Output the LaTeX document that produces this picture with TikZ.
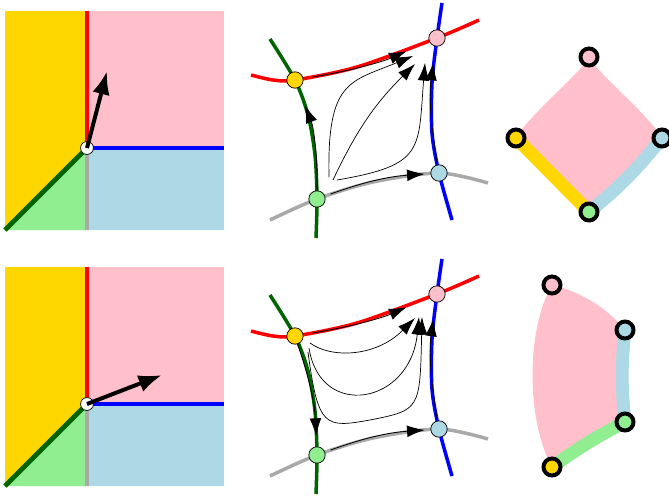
\documentclass[tikz,border=0pt]{standalone}
\usepackage{tikz}
\usetikzlibrary{arrows.meta,backgrounds}
\definecolor{gold}{RGB}{255,215,0}
\definecolor{rosy}{RGB}{255,192,203}
\definecolor{skyish}{RGB}{173,216,230}
\definecolor{mint}{RGB}{144,238,144}
\definecolor{forest}{RGB}{0,100,0}
\definecolor{ash}{RGB}{169,169,169}

\begin{document}
\begin{tikzpicture}[
  x=0.03cm, y=-0.03cm,
  wall/.style={line width=3.4pt},
  vec/.style={line width=3.4pt, -{Latex[length=20pt,width=15pt]}},
  origin/.style={circle, draw, fill=white, line width=0.6pt, minimum size=11pt, inner sep=0pt},
  branch/.style={line width=3pt},
  pt/.style={circle, draw, line width=0.6pt, minimum size=14pt, inner sep=0pt},
  follow/.style={line width=0.7pt, -{Latex[length=15pt,width=10pt]}},
  flow/.style={line width=0.6pt, -{Latex[length=15pt,width=10pt]}},
  vertex/.style={circle, draw, line width=3.4pt, minimum size=14.5pt, inner sep=0pt},
  band/.style={line width=11pt, line cap=round}
]
  \useasboundingbox (0,0) rectangle (669,496);

  % regions on the left
  \foreach \i/\dy/\tx/\ty in {1/0/107/71, 2/256/162/119}{
    \begin{scope}[shift={(0,\dy)}]
      \fill[gold]   (5,11) rectangle (87,230);
      \fill[mint]   (5,230) -- (87,148) -- (87,230) -- cycle;
      \fill[rosy]   (87,11) rectangle (224,148);
      \fill[skyish] (87,148) rectangle (224,230);
      \draw[wall, red]  (87,11) -- (87,148);
      \draw[wall, blue] (87,148) -- (224,148);
      \draw[wall, ash]  (87,148) -- (87,230);
      \draw[wall, forest, line width=4pt] (87,148) -- (5,230);
      \node[origin] (o\i) at (87,148) {};
      \coordinate (t\i) at (\tx,\ty);
      \draw[vec] (o\i.center) -- (t\i);
    \end{scope}
  }

  % curves in the middle
  \foreach \i/\dy in {1/0, 2/256}{
    \begin{scope}[shift={(0,\dy)}]
      \node[pt, fill=gold]   (y\i) at (295,80)  {};
      \node[pt, fill=rosy]   (p\i) at (437,38)  {};
      \node[pt, fill=mint]   (g\i) at (317,199) {};
      \node[pt, fill=skyish] (b\i) at (439,173) {};
      \begin{scope}[on background layer]
        \draw[branch, red]    plot[smooth] coordinates {(251,75) (273,80) (y\i.center) (357,67) (p\i.center) (479,20)};
        \draw[branch, forest] plot[smooth] coordinates {(270,39) (y\i.center) (308,115) (315,155) (g\i.center) (316,238)};
        \draw[branch, blue]   plot[smooth] coordinates {(442,3) (p\i.center) (432,83) (432,133) (b\i.center) (452,220)};
        \draw[branch, ash]    plot[smooth] coordinates {(270,220) (g\i.center) (373,182) (b\i.center) (488,183)};
      \end{scope}
      \draw[follow, shorten <=5pt, shorten >=5pt] (g\i) to[bend left=8] (b\i);
      \draw[follow, shorten <=8pt, shorten >=21pt] (y\i) to[bend right=7] (p\i);
      \draw[follow, shorten >=14pt] (b\i) to[bend left=9] (p\i);
    \end{scope}
  }

  % top: flow out of the green point
  \draw[follow, shorten >=16pt] (g1) to[bend right=11] (y1);
  \coordinate (sa1) at (329,177); \coordinate (ea1) at (413,56);
  \coordinate (sb1) at (333,180); \coordinate (eb1) at (415,64);
  \coordinate (sc1) at (337,180); \coordinate (ec1) at (425,63);
  \draw[flow] (sa1) .. controls (327,80) and (350,82) .. (ea1);
  \draw[flow] (sb1) to[bend left=10] (eb1);
  \draw[flow] (sc1) .. controls (425,165) and (418,150) .. (ec1);

  % bottom: flow out of the yellow point
  \draw[follow, shorten >=9pt] (y2) to[bend left=8] (g2);
  \coordinate (sa2) at (310,343); \coordinate (ea2) at (415,318);
  \coordinate (sb2) at (309,348); \coordinate (eb2) at (419,317);
  \coordinate (sc2) at (308,352); \coordinate (ec2) at (422,317);
  \draw[flow] (sa2) .. controls (330,358) and (375,358) .. (ea2);
  \draw[flow] (sb2) .. controls (320,420) and (410,405) .. (eb2);
  \draw[flow] (sc2) .. controls (318,428) and (325,428) .. (370,420)
                    .. controls (420,410) and (420,410) .. (ec2);

  % polygons on the right
  \node[vertex, fill=rosy]   (rp1) at (589,57)  {};
  \node[vertex, fill=gold]   (ry1) at (516,138) {};
  \node[vertex, fill=skyish] (rb1) at (662,138) {};
  \node[vertex, fill=mint]   (rg1) at (589,212) {};
  \node[vertex, fill=rosy]   (rp2) at (552,285) {};
  \node[vertex, fill=skyish] (rb2) at (625,330) {};
  \node[vertex, fill=mint]   (rg2) at (625,422) {};
  \node[vertex, fill=gold]   (ry2) at (552,467) {};
  \begin{scope}[on background layer]
    \fill[rosy] (rp1.center) .. controls (582,72) and (528,116) .. (ry1.center)
      -- (rg1.center) -- (rb1.center) .. controls (650,116) and (596,72) .. (rp1.center) -- cycle;
    \draw[band, gold]   (ry1.center) -- (rg1.center);
    \draw[band, skyish] (rb1.center) to[bend left=6] (rg1.center);
    \fill[rosy] (rp2.center) .. controls (575,290) and (605,305) .. (rb2.center)
      to[bend right=6] (rg2.center) -- (ry2.center)
      .. controls (526,420) and (526,330) .. (rp2.center) -- cycle;
    \draw[band, skyish] (rb2.center) to[bend right=6] (rg2.center);
    \draw[band, mint]   (rg2.center) to[bend right=4] (ry2.center);
  \end{scope}
\end{tikzpicture}
\end{document}
